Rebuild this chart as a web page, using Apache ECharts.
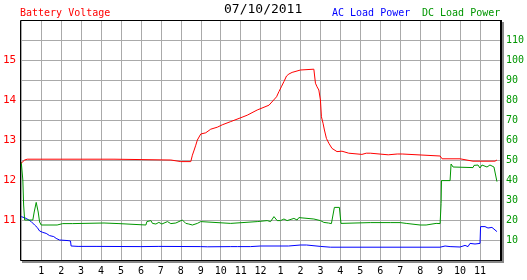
<!DOCTYPE html>
<html>
<head>
<meta charset="utf-8">
<script src="https://cdn.jsdelivr.net/npm/echarts@6/dist/echarts.min.js"></script>
<style>
html,body{margin:0;padding:0;background:#fff;}
#chart{width:527px;height:280px;}
</style>
</head>
<body>
<div id="chart"></div>
<script>
// ---- data (hours since midnight) ----
var hourLabels = ['', '1','2','3','4','5','6','7','8','9','10','11','12','1','2','3','4','5','6','7','8','9','10','11',''];
var voltTickLabels = ['11','12','13','14','15'];
var powerTickLabels = ['10','20','30','40','50','60','70','80','90','100','110'];

var batteryHours = [0,0.17,0.3,4.65,4.7,7.5,7.6,8.0,8.5,8.58,8.67,8.75,8.83,9.0,9.25,9.5,9.83,10.08,10.5,10.92,11.33,11.83,12.42,12.5,12.8,12.92,13.04,13.17,13.3,13.42,13.58,14.0,14.08,14.67,14.75,14.83,14.92,15.0,15.05,15.13,15.2,15.3,15.42,15.58,15.83,16.08,16.42,17.08,17.3,17.5,17.6,18.4,18.5,18.85,19.1,19.15,21.0,21.1,22.0,22.65,23.75,23.85];
var batteryVolts = [12.42,12.5,12.52,12.52,12.5,12.5,12.48,12.46,12.46,12.62,12.75,12.87,13.0,13.15,13.18,13.27,13.32,13.38,13.46,13.54,13.62,13.75,13.87,13.92,14.08,14.21,14.33,14.46,14.6,14.65,14.69,14.75,14.77,14.77,14.42,14.33,14.25,14.0,13.58,13.42,13.25,13.04,12.92,12.79,12.71,12.72,12.67,12.64,12.67,12.67,12.63,12.63,12.6,12.65,12.65,12.6,12.6,12.53,12.53,12.47,12.47,12.5];

var dcHours = [0,0.08,0.12,0.17,0.58,0.65,0.75,0.8,0.85,0.92,1.0,1.8,1.83,1.88,2.08,2.13,2.58,2.63,4.15,4.2,4.9,4.95,6.25,6.3,6.5,6.58,6.75,6.9,7.05,7.33,7.5,7.75,8.08,8.25,8.4,8.58,8.83,9.0,9.08,10.5,10.58,11.83,11.9,12.33,12.5,12.67,12.83,13.0,13.17,13.33,13.67,13.83,13.92,14.0,14.67,14.75,15.0,15.17,15.4,15.55,15.6,15.7,15.95,16.03,16.1,17.5,17.55,17.6,18.5,19.0,19.05,19.3,19.35,20.0,20.3,20.35,20.8,20.9,21.0,21.05,21.07,21.5,21.55,21.65,21.75,22.65,22.7,22.9,23.0,23.1,23.35,23.5,23.7,23.8,23.85];
var dcPower = [49,40,27.5,20,20,24,28.8,28.5,24,19,17.5,17.5,18.2,17.5,18.2,17.5,18.2,17.5,18.5,17.5,18.2,17.5,17.5,19.2,19.7,18.3,18,18.8,18,19.2,18.2,18.5,20,18.3,18,17.5,18.3,19.2,18.3,18.3,19.2,19.2,19.7,19.7,19.2,21.7,19.7,19.7,20.5,19.7,20.8,20,21.2,20.5,20.5,19.7,19.7,18.8,18.5,18.2,18.3,26.3,26.3,18.3,18.7,18.7,17.8,18.7,18.7,18.7,19.2,18.3,17.5,17.5,17.5,18.3,18.3,17.8,18.2,28.3,39.7,39.7,48,46.5,46.2,46.2,47.3,47.5,46,47.5,46.5,47.5,46.5,47,39.2];

var acHours = [0,0.25,0.5,0.67,0.8,0.92,1.08,1.25,1.42,1.63,1.75,1.92,2.35,2.47,2.5,2.53,2.85,2.9,3.75,3.8,6.0,6.05,6.9,6.95,9.0,9.35,10.5,10.55,10.85,10.9,11.5,11.55,12.0,12.05,13.4,13.45,14.0,14.1,14.3,14.35,15.0,15.5,21.0,21.25,21.5,22.0,22.25,22.4,22.5,22.75,23.0,23.03,23.25,23.4,23.6,23.7,23.85];
var acPower = [21.7,20.8,19.2,17.5,16.3,14.5,13.8,13.3,12.2,11.7,10.8,10,9.7,9.5,7,6.3,6.8,6.3,6.8,6.3,6.7,6.3,6.8,6.5,6.7,6.6,6.7,7.1,6.7,7.1,6.7,7.1,7,7,7,7.5,7.5,7.5,7.5,6.8,6.8,6.4,6.4,7,6.7,6.5,7.3,6.7,8.3,8.0,8.3,16.7,16.7,16,16.3,15.5,14.2];

function pairs(xs, ys){ var out=[]; for(var i=0;i<xs.length;i++) out.push([xs[i], ys[i]]); return out; }

var FONT = 'DejaVu Sans Mono';
var RED = '#ff0000', GREEN = '#009600', BLUE = '#0000ff';
var GL = 20, GT = 20, GR = 500, GB = 260;

var chart = echarts.init(document.getElementById('chart'), null, {renderer:'canvas'});
chart.setOption({
  animation: false,
  backgroundColor: '#ffffff',
  grid: {
    left: GL, right: 527 - GR, top: GT, bottom: 280 - GB,
    show: false
  },
  graphic: [
    {type:'rect', silent:true, z: 100, shape:{x: GL + 0.5, y: GT + 0.5, width: GR - GL, height: GB - GT}, style:{fill:'none', stroke:'#000', lineWidth: 1}},
    {type:'rect', silent:true, z: 100, shape:{x: GR, y: GT, width: 2, height: GB - GT + 1}, style:{fill:'#000'}},
    {type:'rect', silent:true, z: 100, shape:{x: GR + 2, y: GT + 2, width: 2, height: GB - GT + 1}, style:{fill:'#888'}},
    {type:'rect', silent:true, z: 100, shape:{x: GL + 2, y: GB + 1, width: GR - GL + 2, height: 2}, style:{fill:'#888'}},
    {type:'text', left: 20, top: 8, style:{text:'Battery Voltage', fill: RED, font: '10px "'+FONT+'"'}},
    {type:'text', left: 224, top: 3, style:{text:'07/10/2011', fill: '#000', font: '13px "'+FONT+'"'}},
    {type:'text', left: 332, top: 8, style:{text:'AC Load Power', fill: BLUE, font: '10px "'+FONT+'"'}},
    {type:'text', left: 422, top: 8, style:{text:'DC Load Power', fill: GREEN, font: '10px "'+FONT+'"'}}
  ],
  xAxis: {
    type: 'value', min: 0, max: 24, interval: 1,
    axisLine: {show: false}, axisTick: {show: false},
    axisLabel: {
      color: '#000', fontFamily: FONT, fontSize: 10, margin: 6,
      showMinLabel: true, showMaxLabel: true,
      formatter: function(v){ return hourLabels[Math.round(v)] || ''; }
    },
    splitLine: {show: true, lineStyle: {color: '#aaaaaa', width: 1}}
  },
  yAxis: [
    {
      type: 'value', min: 10, max: 16, interval: 0.5, position: 'left',
      axisLine: {show: false}, axisTick: {show: false},
      axisLabel: {
        color: RED, fontFamily: FONT, fontSize: 11, margin: 5,
        formatter: function(v){ var s = String(v); return voltTickLabels.indexOf(s) >= 0 ? s : ''; }
      },
      splitLine: {show: true, lineStyle: {color: '#aaaaaa', width: 1}}
    },
    {
      type: 'value', min: 0, max: 120, interval: 10, position: 'right',
      axisLine: {show: false}, axisTick: {show: false},
      axisLabel: {
        color: GREEN, fontFamily: FONT, fontSize: 10, margin: 6,
        formatter: function(v){ var s = String(v); return powerTickLabels.indexOf(s) >= 0 ? s : ''; }
      },
      splitLine: {show: false}
    }
  ],
  series: [
    {name:'AC Load Power', type:'line', yAxisIndex:1, data: pairs(acHours, acPower), showSymbol:false, lineStyle:{color: BLUE, width: 1}, itemStyle:{color: BLUE}},
    {name:'DC Load Power', type:'line', yAxisIndex:1, data: pairs(dcHours, dcPower), showSymbol:false, lineStyle:{color: GREEN, width: 1}, itemStyle:{color: GREEN}},
    {name:'Battery Voltage', type:'line', yAxisIndex:0, data: pairs(batteryHours, batteryVolts), showSymbol:false, lineStyle:{color: RED, width: 1}, itemStyle:{color: RED}}
  ]
});
</script>
</body>
</html>
